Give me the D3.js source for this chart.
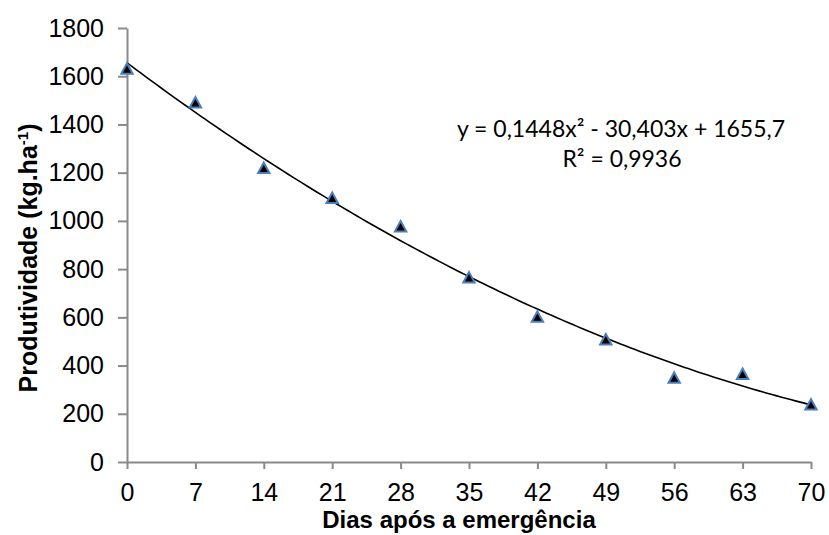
<!DOCTYPE html>
<html>
<head>
<meta charset="utf-8">
<script src="https://cdn.jsdelivr.net/npm/d3@7"></script>
<style>
  html, body { margin: 0; padding: 0; background: #fff; }
  svg { display: block; }
</style>
</head>
<body>
<div id="chart"></div>
<script>
// ---- data ----
const days = [0, 7, 14, 21, 28, 35, 42, 49, 56, 63, 70];
const productivity = [1632, 1492, 1220, 1096, 978, 766, 603, 509, 350, 366, 239];
const yTickValues = [0, 200, 400, 600, 800, 1000, 1200, 1400, 1600, 1800];
const xTickValues = [0, 7, 14, 21, 28, 35, 42, 49, 56, 63, 70];
const fitCoefficients = [0.1448, -30.403, 1655.7]; // a, b, c of the displayed trendline
const equationText = "y = 0,1448x² - 30,403x + 1655,7";
const r2Text = "R² = 0,9936";
const xTitle = "Dias após a emergência";
const yTitle = "Produtividade (kg.ha";

// ---- layout ----
const W = 829, H = 535;
const svg = d3.select("#chart").append("svg").attr("width", W).attr("height", H);

const x = d3.scaleLinear().domain([0, 70]).range([127, 811]);
const y = d3.scaleLinear().domain([0, 1800]).range([462, 28]);

const axisColor = "#8a8a8a";

// y axis
const gy = svg.append("g").attr("transform", `translate(${x(0)},0)`)
  .call(d3.axisLeft(y).tickValues(yTickValues).tickFormat(d3.format("d"))
    .tickSize(9).tickSizeOuter(0).tickPadding(14));
// x axis
const gx = svg.append("g").attr("transform", `translate(0,${y(0)})`)
  .call(d3.axisBottom(x).tickValues(xTickValues).tickFormat(d3.format("d"))
    .tickSize(7).tickSizeOuter(0).tickPadding(14));

[gx, gy].forEach(g => {
  g.select(".domain").attr("stroke", axisColor).attr("stroke-width", 2);
  g.selectAll(".tick line").attr("stroke", axisColor).attr("stroke-width", 2);
  g.selectAll(".tick text")
    .attr("fill", "#000")
    .style("font-family", "'Liberation Sans', Arial, sans-serif")
    .style("font-size", "25px");
});

// trendline
const fit = t => fitCoefficients[0] * t * t + fitCoefficients[1] * t + fitCoefficients[2];
const fitX = d3.range(0, 70.001, 0.5);
svg.append("path")
  .datum(fitX)
  .attr("fill", "none")
  .attr("stroke", "#000")
  .attr("stroke-width", 1.6)
  .attr("d", d3.line().x(d => x(d)).y(d => y(fit(d))));

// markers (triangles)
const hw = 5.7, hh = 5.2;
const tri = `M0,${-hh}L${hw},${hh}L${-hw},${hh}Z`;
svg.append("g").selectAll("path")
  .data(days.map((d, i) => ({ d, v: productivity[i] })))
  .join("path")
  .attr("transform", p => `translate(${x(p.d)},${y(p.v)})`)
  .attr("d", tri)
  .attr("fill", "#000")
  .attr("stroke", "#4a7ebb")
  .attr("stroke-width", 2)
  .attr("stroke-linejoin", "miter");

// equation label
const eqFont = "Lato, 'Open Sans', sans-serif";
svg.append("text")
  .attr("x", 621).attr("y", 137)
  .attr("text-anchor", "middle")
  .style("font-family", eqFont).style("font-size", "23px")
  .text(equationText);
svg.append("text")
  .attr("x", 622).attr("y", 167)
  .attr("text-anchor", "middle")
  .style("font-family", eqFont).style("font-size", "23px")
  .text(r2Text);

// axis titles
svg.append("text")
  .attr("x", 459).attr("y", 528)
  .attr("text-anchor", "middle")
  .style("font-family", "'Liberation Sans', Arial, sans-serif")
  .style("font-size", "24px").style("font-weight", "bold")
  .text(xTitle);

const yt = svg.append("text")
  .attr("transform", "translate(37,258) rotate(-90)")
  .attr("text-anchor", "middle")
  .style("font-family", "'Liberation Sans', Arial, sans-serif")
  .style("font-size", "25px").style("font-weight", "bold");
yt.append("tspan").text(yTitle);
yt.append("tspan").attr("dy", "-9").style("font-size", "15px").text("-1");
yt.append("tspan").attr("dy", "9").text(")");
</script>
</body>
</html>
